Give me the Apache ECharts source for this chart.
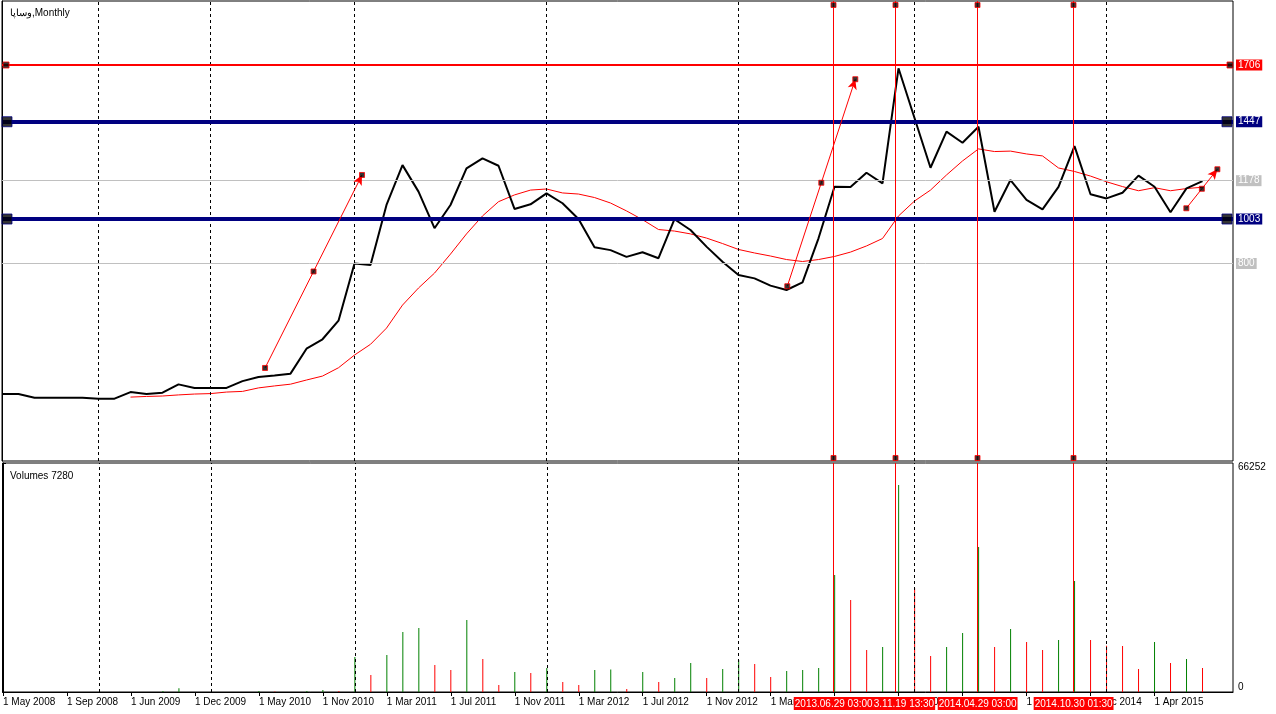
<!DOCTYPE html>
<html><head><meta charset="utf-8">
<script src="https://cdn.jsdelivr.net/npm/echarts@6/dist/echarts.min.js"></script>
<style>html,body{margin:0;padding:0;background:#fff}#c{width:1276px;height:714px}</style>
</head><body><div id="c"></div>
<script>
// ---------- data ----------
const symbolName = 'وساپا';
const periodName = 'Monthly';
const volumeTitle = 'Volumes 7280';
const tickBars = [0,4,8,12,16,20,24,28,32,36,40,44,48,52,56,60,64,68,72];
const tickLabels = ['1 May 2008','1 Sep 2008','1 Jun 2009','1 Dec 2009','1 May 2010','1 Nov 2010',
  '1 Mar 2011','1 Jul 2011','1 Nov 2011','1 Mar 2012','1 Jul 2012','1 Nov 2012','1 Mar 2013',
  '1 Jul 2013','1 Dec 2013','1 Apr 2014','1 Aug 2014','1 Dec 2014','1 Apr 2015'];
const closePrices = [204,204,187,187,187,187,183,183,213,204,210,248,232,232,232,263,282,289,297,411,
  454,539,800,793,1067,1249,1128,961,1067,1234,1280,1246,1049,1070,1120,1075,1003,874,861,830,
  851,824,1002,953,877,808,747,732,699,679,714,915,1150,1149,1214,1166,1691,1464,1237,1402,
  1351,1424,1036,1181,1090,1047,1150,1336,1116,1097,1123,1201,1150,1034,1143,1176];
const maValues = [null,null,null,null,null,null,null,null,190,193,195,200,204,206,213,216,232,241,249,268,
  286,324,382,431,505,610,688,756,843,935,1017,1082,1113,1135,1140,1122,1117,1101,1076,1040,
  1000,955,948,935,916,891,864,848,834,818,809,818,832,852,880,914,1017,1085,1135,1204,
  1268,1323,1311,1313,1300,1291,1236,1220,1199,1173,1151,1132,1146,1132,1142,1148];
const volumes = [0,0,0,0,0,0,0,0,0,0,300,1100,0,0,0,0,300,150,0,300,
  600,300,10130,4920,10700,17360,18520,7810,6360,20830,9550,2030,5790,5500,6940,2890,2030,6360,6500,870,
  5790,2890,4050,8390,4050,6650,9260,8100,4340,6080,6360,6940,33850,26620,12150,13020,59890,30090,10410,13020,
  17070,41950,13020,18230,14470,12150,15040,32110,15040,13390,13310,6650,14470,8390,9550,6940];
const volumeScaleMax = 66252;
const yearSeparatorBars = [6,13,22,34,46,57,69];
const levelPrices = [1706,1447,1178,1003,800];
const levelKinds = ['red','navy','grey','navy','grey'];
const levelHandleBars = {red:[0.22,76.72], navy:[0.28,76.53]};
const vLineBars = [51.9375,55.8125,60.9375,66.9375];
const vLineLabels = ['2013.06.29 03:00','2013.11.19 13:30','2014.04.29 03:00','2014.10.30 01:30'];
const vLineHandlePrices = [1980,-88];
const arrowStarts = [[16.41,323],[49.05,696],[73.99,1052]];
const arrowEnds = [[22.47,1204],[53.3,1641],[75.93,1230]];

// ---------- styling ----------
const RED='#ff0000', NAVY='#000080', GREEN='#008000', GREY='#c0c0c0';
const FONT='Liberation Sans';
const kindColor = {red:RED, navy:NAVY, grey:GREY};
const kindWidth = {red:2, navy:4, grey:1};
const xMin=-0.03125, xMax=76.90625;

const handles=[];
levelPrices.forEach((p,i)=>{
  const k=levelKinds[i];
  if(levelHandleBars[k]) levelHandleBars[k].forEach(b=>handles.push({value:[b,p],
    symbolSize:k==='navy'?10:6,itemStyle:{color:'#000',borderColor:kindColor[k],borderWidth:1}}));
});
vLineBars.forEach(b=>vLineHandlePrices.forEach(p=>handles.push({value:[b,p],symbolSize:5,
  itemStyle:{color:'#000',borderColor:RED,borderWidth:1}})));
arrowStarts.forEach((s,i)=>{
  const e=arrowEnds[i];
  [s,[(s[0]+e[0])/2,(s[1]+e[1])/2],e].forEach(pt=>handles.push({value:pt,symbolSize:5,
    itemStyle:{color:'#000',borderColor:RED,borderWidth:1}}));
});

const sepLines = yearSeparatorBars.map(b=>({xAxis:b,label:{show:false}}));
const levelLines = levelPrices.map((p,i)=>{
  const k=levelKinds[i];
  return {yAxis:p, lineStyle:{color:kindColor[k],width:kindWidth[k],type:'solid'},
    label:{show:true,position:'end',distance:3,formatter:String(p),color:'#fff',
      backgroundColor:kindColor[k],padding:[1,2,0,2],fontFamily:FONT,fontSize:10}};
});
const vLinesMain = vLineBars.map(b=>({xAxis:b,lineStyle:{color:RED,width:1,type:'solid'},label:{show:false}}));
const arrowLines = arrowStarts.map((s,i)=>[{coord:s,symbol:'none'},{coord:arrowEnds[i],symbol:'arrow',symbolSize:[7,10]}]);
const vLinesVol = vLineBars.map((b,i)=>({xAxis:b,lineStyle:{color:RED,width:1,type:'solid'},
  label:{show:true,position:'start',distance:5,formatter:vLineLabels[i],color:'#fff',backgroundColor:RED,
    padding:[2,1,1,1],fontFamily:FONT,fontSize:10}})).reverse();

const chart = echarts.init(document.getElementById('c'),null,{renderer:'canvas'});
chart.setOption({
  animation:false,
  backgroundColor:'#fff',
  title:[
    {text:symbolName+','+periodName,left:5,top:3,textStyle:{fontFamily:FONT,fontSize:10,fontWeight:'normal',color:'#000'}},
    {text:volumeTitle,left:5,top:466,textStyle:{fontFamily:FONT,fontSize:10,fontWeight:'normal',color:'#000'}}
  ],
  grid:[
    {left:2,top:1,width:1231,height:460,show:true,borderColor:'#000',borderWidth:1,backgroundColor:'#fff'},
    {left:2,top:463,width:1231,height:229,show:true,borderColor:'#000',borderWidth:1,backgroundColor:'#fff'}
  ],
  xAxis:[
    {gridIndex:0,type:'value',min:xMin,max:xMax,show:false,splitLine:{show:false}},
    {gridIndex:1,type:'value',min:xMin,max:xMax,splitLine:{show:false},
      axisLine:{show:true,onZero:false,lineStyle:{color:'#000',width:1}},
      axisTick:{show:true,customValues:tickBars,length:4,lineStyle:{color:'#000'}},
      axisLabel:{show:true,customValues:tickBars,align:'left',margin:5,color:'#000',fontFamily:FONT,fontSize:10,
        formatter:v=>tickLabels[tickBars.indexOf(Math.round(v))]||''}}
  ],
  yAxis:[
    {gridIndex:0,type:'value',min:-101.7,max:1998.2,position:'right',splitLine:{show:false},
      axisLine:{show:true,lineStyle:{color:'#000'}},axisTick:{show:false},axisLabel:{show:false}},
    {gridIndex:1,type:'value',min:0,max:volumeScaleMax,interval:volumeScaleMax,position:'right',splitLine:{show:false},
      axisLine:{show:true,lineStyle:{color:'#000'}},axisTick:{show:true,length:3,lineStyle:{color:'#000'}},
      axisLabel:{show:true,margin:5,color:'#000',fontFamily:FONT,fontSize:10,
        formatter:v=>v===0?'{b|0}':'{t|'+v+'}',
        rich:{b:{padding:[0,0,9,0],fontFamily:FONT,fontSize:10,color:'#000'},t:{padding:[8,0,0,0],fontFamily:FONT,fontSize:10,color:'#000'}}}}
  ],
  series:[
    {type:'line',name:'ma',xAxisIndex:0,yAxisIndex:0,data:maValues.map((v,i)=>[i,v]),showSymbol:false,symbol:'none',
      lineStyle:{color:RED,width:1},z:3,silent:true,
      markLine:{silent:true,symbol:'none',label:{show:false},lineStyle:{color:'#000',width:1,type:[3,3]},data:sepLines}},
    {type:'line',name:'close',xAxisIndex:0,yAxisIndex:0,data:closePrices.map((v,i)=>[i,v]),showSymbol:false,symbol:'none',
      lineStyle:{color:'#000',width:2},z:4,silent:true},
    {type:'scatter',name:'objects',xAxisIndex:0,yAxisIndex:0,data:handles,symbol:'rect',z:6,silent:true,
      markLine:{silent:true,symbol:'none',z:5,lineStyle:{color:RED,width:1,type:'solid'},
        data:[...levelLines,...vLinesMain,...arrowLines]}},
    {type:'bar',name:'volume',xAxisIndex:1,yAxisIndex:1,barWidth:1,silent:true,
      data:volumes.map((v,i)=>({value:[i,v],itemStyle:{color:(i>0&&v>volumes[i-1])?GREEN:RED}})),
      markLine:{silent:true,symbol:'none',z:5,lineStyle:{color:'#000',width:1,type:[3,3]},
        data:[...sepLines,...vLinesVol]}}
  ]
});
</script></body></html>
